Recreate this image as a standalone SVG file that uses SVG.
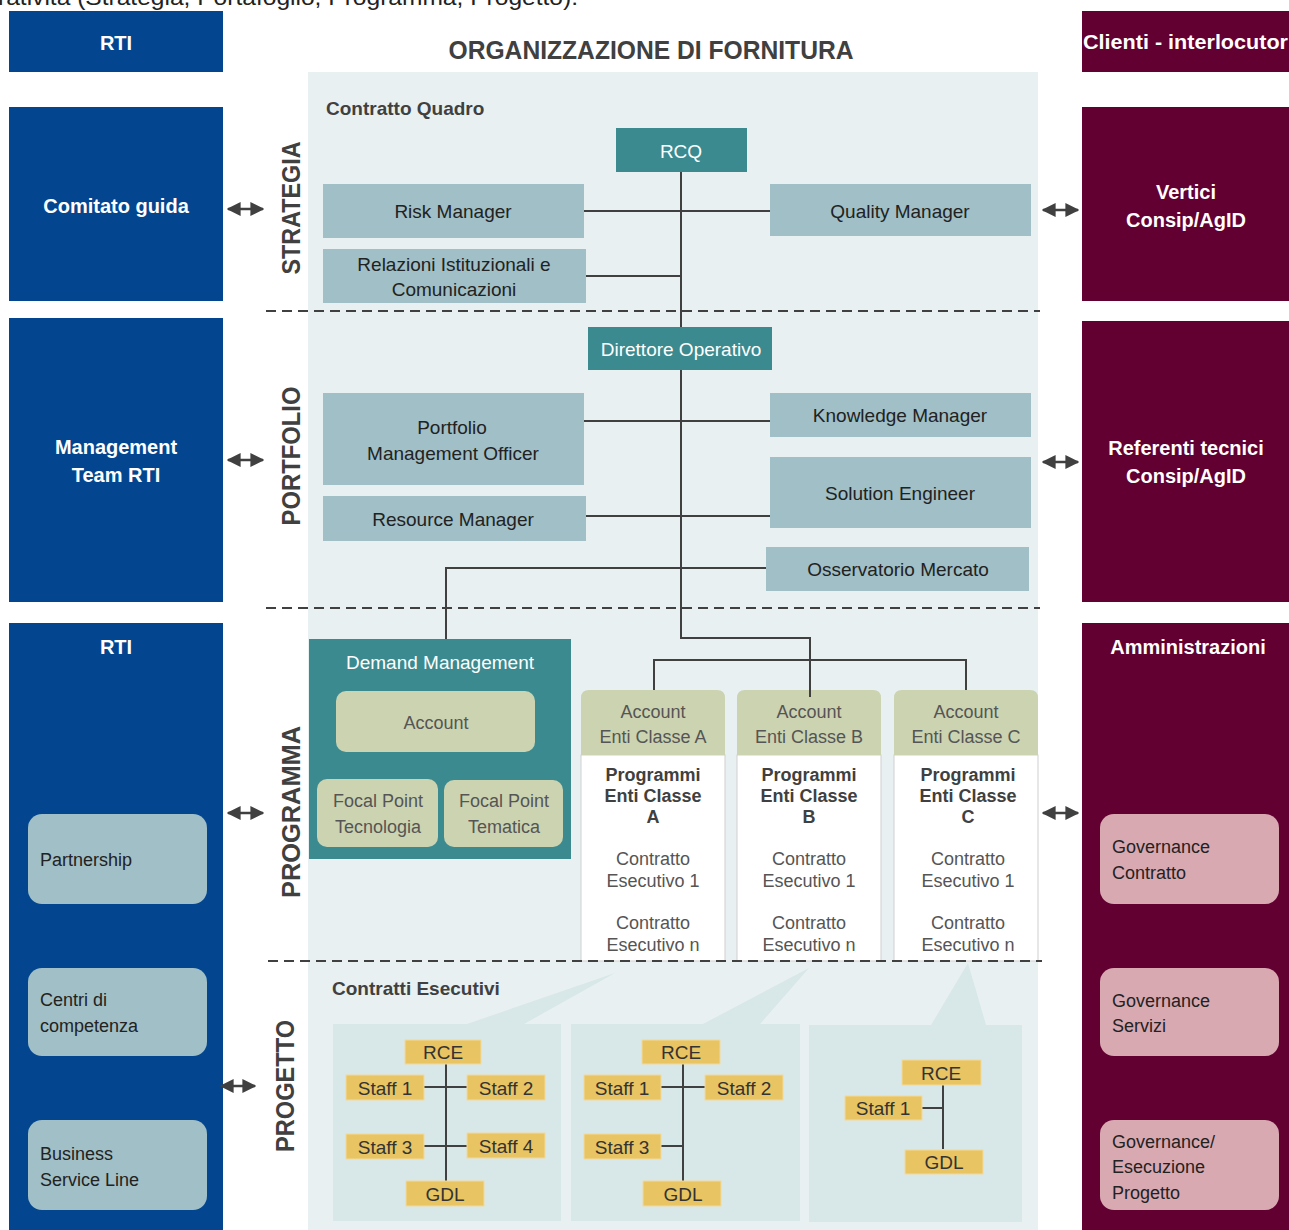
<svg xmlns="http://www.w3.org/2000/svg" width="1289" height="1230" viewBox="0 0 1289 1230">
<style>
text{font-family:"Liberation Sans",Arial,sans-serif}
.wb{fill:#fff;font-weight:bold;font-size:20px;text-anchor:middle}
.lb{fill:#222;font-size:18px}
.bx{fill:#222;font-size:19px;text-anchor:middle;dominant-baseline:central}
.wt{fill:#fff;font-size:19px;text-anchor:middle;dominant-baseline:central}
.gt{fill:#555;font-size:18px;text-anchor:middle;dominant-baseline:central}
.pb{fill:#404040;font-size:18px;font-weight:bold;text-anchor:middle;dominant-baseline:central}
.vl{fill:#404040;font-size:26px;font-weight:bold;text-anchor:middle;dominant-baseline:central}
.yt{fill:#333;font-size:19px;text-anchor:middle;dominant-baseline:central}
.blue{fill:#03468F}
.mar{fill:#620032}
.lbox{fill:#A0BFC6}
.teal{fill:#3B8A8F}
.olive{fill:#CCD3B1}
.pink{fill:#D9A9B2}
.ylw{fill:#E8C462;stroke:#F2DA9A;stroke-width:1}
.pan{fill:#D8E7E8}
.ln{stroke:#404040;stroke-width:2;fill:none}
.dash{stroke:#404040;stroke-width:2.2;stroke-dasharray:10 6;fill:none}
.arr{stroke:#404040;stroke-width:2.5;fill:none;marker-start:url(#ah);marker-end:url(#ah)}
</style>
<defs>
<marker id="ah" viewBox="0 0 10 10" refX="9" refY="5" markerWidth="5.6" markerHeight="5.6" orient="auto-start-reverse" markerUnits="strokeWidth">
<path d="M0,0 L10,5 L0,10 z" fill="#404040"/>
</marker>
</defs>
<rect width="1289" height="1230" fill="#fff"/>
<text x="-2" y="5" fill="#222" font-size="22" textLength="580" lengthAdjust="spacingAndGlyphs">rativita (Strategia, Portafoglio, Programma, Progetto).</text>

<!-- central background -->
<rect x="308" y="72" width="730" height="1158" fill="#E8F0F2"/>
<text x="651" y="59" fill="#404040" font-size="25" font-weight="bold" text-anchor="middle" textLength="405" lengthAdjust="spacingAndGlyphs">ORGANIZZAZIONE DI FORNITURA</text>
<text x="326" y="115" fill="#404040" font-size="19" font-weight="bold">Contratto Quadro</text>

<!-- left column -->
<g id="rti-top"><rect class="blue" x="9" y="11" width="214" height="61"/><text class="wb" x="116" y="50">RTI</text></g>
<g id="comitato"><rect class="blue" x="9" y="107" width="214" height="194"/><text class="wb" x="116" y="213">Comitato guida</text></g>
<g id="mgmt"><rect class="blue" x="9" y="318" width="214" height="284"/><text class="wb" x="116" y="454">Management</text><text class="wb" x="116" y="482">Team RTI</text></g>
<g id="rti-bottom"><rect class="blue" x="9" y="623" width="214" height="607"/><text class="wb" x="116" y="654">RTI</text></g>
<g id="partnership"><rect class="lbox" x="28" y="814" width="179" height="90" rx="14"/><text class="lb" x="40" y="866">Partnership</text></g>
<g id="centri"><rect class="lbox" x="28" y="968" width="179" height="88" rx="14"/><text class="lb" x="40" y="1006">Centri di</text><text class="lb" x="40" y="1032">competenza</text></g>
<g id="bsl"><rect class="lbox" x="28" y="1120" width="179" height="90" rx="14"/><text class="lb" x="40" y="1160">Business</text><text class="lb" x="40" y="1186">Service Line</text></g>

<!-- right column -->
<g id="clienti"><rect class="mar" x="1082" y="11" width="207" height="61"/><text x="1083" y="49" fill="#fff" font-size="20" font-weight="bold" textLength="205" lengthAdjust="spacingAndGlyphs">Clienti - interlocutor</text></g>
<g id="vertici"><rect class="mar" x="1082" y="107" width="207" height="194"/><text class="wb" x="1186" y="199">Vertici</text><text class="wb" x="1186" y="227">Consip/AgID</text></g>
<g id="referenti"><rect class="mar" x="1082" y="321" width="207" height="281"/><text class="wb" x="1186" y="455">Referenti tecnici</text><text class="wb" x="1186" y="483">Consip/AgID</text></g>
<g id="amministrazioni"><rect class="mar" x="1082" y="623" width="207" height="607"/><text class="wb" x="1188" y="654">Amministrazioni</text></g>
<g id="gov-contratto"><rect class="pink" x="1100" y="814" width="179" height="90" rx="14"/><text class="lb" x="1112" y="853">Governance</text><text class="lb" x="1112" y="879">Contratto</text></g>
<g id="gov-servizi"><rect class="pink" x="1100" y="968" width="179" height="88" rx="14"/><text class="lb" x="1112" y="1007">Governance</text><text class="lb" x="1112" y="1032">Servizi</text></g>
<g id="gov-progetto"><rect class="pink" x="1100" y="1120" width="179" height="90" rx="14"/><text class="lb" x="1112" y="1148">Governance/</text><text class="lb" x="1112" y="1173">Esecuzione</text><text class="lb" x="1112" y="1199">Progetto</text></g>

<!-- vertical level labels -->
<text class="vl" transform="translate(291,208) rotate(-90)" textLength="133" lengthAdjust="spacingAndGlyphs">STRATEGIA</text>
<text class="vl" transform="translate(291,456) rotate(-90)" textLength="139" lengthAdjust="spacingAndGlyphs">PORTFOLIO</text>
<text class="vl" transform="translate(291,812) rotate(-90)" textLength="172" lengthAdjust="spacingAndGlyphs">PROGRAMMA</text>
<text class="vl" transform="translate(285,1086) rotate(-90)" textLength="132" lengthAdjust="spacingAndGlyphs">PROGETTO</text>

<!-- bottom panels and callouts -->
<g id="panels">
<polygon class="pan" points="467,1024 524,1024 615,973"/>
<polygon class="pan" points="703,1024 760,1024 809,968"/>
<polygon class="pan" points="931,1025 986,1025 968,963"/>
<rect class="pan" x="333" y="1024" width="228" height="197"/>
<rect class="pan" x="571" y="1024" width="229" height="197"/>
<rect class="pan" x="809" y="1025" width="213" height="197"/>
</g>
<text x="332" y="995" fill="#404040" font-size="19" font-weight="bold">Contratti Esecutivi</text>

<!-- connectors -->
<g id="connectors">
<path class="ln" d="M681,172 V327 M584,211 H770 M586,276 H681"/>
<path class="ln" d="M681,370 V638 H810 V697 M584,421 H770 M586,516 H770 M766,568 H446 V639 M654,690 V660 H966 V690"/>
<path class="ln" d="M446,1064 V1181 M424,1087 H467 M424,1146 H467"/>
<path class="ln" d="M683,1064 V1181 M661,1087 H705 M661,1146 H683"/>
<path class="ln" d="M943,1084 V1149 M922,1108 H943"/>
<line class="arr" x1="228" y1="209" x2="263" y2="209"/>
<line class="arr" x1="228" y1="460" x2="263" y2="460"/>
<line class="arr" x1="228" y1="813" x2="263" y2="813"/>
<line class="arr" x1="221" y1="1086" x2="255" y2="1086"/>
<line class="arr" x1="1043" y1="210" x2="1078" y2="210"/>
<line class="arr" x1="1043" y1="462" x2="1078" y2="462"/>
<line class="arr" x1="1043" y1="813" x2="1078" y2="813"/>
</g>

<!-- strategia -->
<g id="rcq"><rect class="teal" x="616" y="128" width="131" height="44"/><text class="wt" x="681" y="151">RCQ</text></g>
<g id="risk"><rect class="lbox" x="323" y="184" width="261" height="54"/><text class="bx" x="453" y="211">Risk Manager</text></g>
<g id="quality"><rect class="lbox" x="770" y="184" width="261" height="52"/><text class="bx" x="900" y="211">Quality Manager</text></g>
<g id="relazioni"><rect class="lbox" x="323" y="249" width="263" height="54"/><text class="bx" x="454" y="264">Relazioni Istituzionali  e</text><text class="bx" x="454" y="289">Comunicazioni</text></g>

<!-- portfolio -->
<g id="direttore"><rect class="teal" x="588" y="327" width="184" height="43"/><text class="wt" x="681" y="349">Direttore Operativo</text></g>
<g id="pmo"><rect class="lbox" x="323" y="393" width="261" height="92"/><text class="bx" x="452" y="427">Portfolio</text><text class="bx" x="453" y="453">Management  Officer</text></g>
<g id="knowledge"><rect class="lbox" x="770" y="393" width="261" height="44"/><text class="bx" x="900" y="415">Knowledge  Manager</text></g>
<g id="solution"><rect class="lbox" x="770" y="457" width="261" height="71"/><text class="bx" x="900" y="493">Solution Engineer</text></g>
<g id="resource"><rect class="lbox" x="323" y="496" width="263" height="45"/><text class="bx" x="453" y="519">Resource Manager</text></g>
<g id="osservatorio"><rect class="lbox" x="766" y="547" width="263" height="44"/><text class="bx" x="898" y="569">Osservatorio Mercato</text></g>

<!-- programma -->
<g id="demand">
<rect class="teal" x="309" y="639" width="262" height="220"/>
<text class="wt" x="440" y="662">Demand Management</text>
<rect class="olive" x="336" y="691" width="199" height="61" rx="10"/>
<text class="gt" x="436" y="723" font-size="19">Account</text>
<rect class="olive" x="317" y="779" width="121" height="68" rx="10"/>
<text class="gt" x="378" y="801" font-size="19">Focal Point</text><text class="gt" x="378" y="827" font-size="19">Tecnologia</text>
<rect class="olive" x="444" y="780" width="119" height="67" rx="10"/>
<text class="gt" x="504" y="801" font-size="19">Focal Point</text><text class="gt" x="504" y="827" font-size="19">Tematica</text>
</g>

<g id="account-a">
<rect x="581" y="755" width="144" height="206" fill="#fff" stroke="#CFCFCF" stroke-width="1"/>
<path class="olive" d="M581,755 V698 Q581,690 589,690 H717 Q725,690 725,698 V755 Z"/>
<text class="gt" x="653" y="712">Account</text><text class="gt" x="653" y="737">Enti Classe A</text>
<text class="pb" x="653" y="775">Programmi</text><text class="pb" x="653" y="796">Enti Classe</text><text class="pb" x="653" y="817">A</text>
<text class="gt" x="653" y="859">Contratto</text><text class="gt" x="653" y="881">Esecutivo 1</text>
<text class="gt" x="653" y="923">Contratto</text><text class="gt" x="653" y="945">Esecutivo n</text>
</g>
<g id="account-b">
<rect x="737" y="755" width="144" height="206" fill="#fff" stroke="#CFCFCF" stroke-width="1"/>
<path class="olive" d="M737,755 V698 Q737,690 745,690 H873 Q881,690 881,698 V755 Z"/>
<text class="gt" x="809" y="712">Account</text><text class="gt" x="809" y="737">Enti Classe B</text>
<text class="pb" x="809" y="775">Programmi</text><text class="pb" x="809" y="796">Enti Classe</text><text class="pb" x="809" y="817">B</text>
<text class="gt" x="809" y="859">Contratto</text><text class="gt" x="809" y="881">Esecutivo 1</text>
<text class="gt" x="809" y="923">Contratto</text><text class="gt" x="809" y="945">Esecutivo n</text>
</g>
<g id="account-c">
<rect x="894" y="755" width="144" height="206" fill="#fff" stroke="#CFCFCF" stroke-width="1"/>
<path class="olive" d="M894,755 V698 Q894,690 902,690 H1030 Q1038,690 1038,698 V755 Z"/>
<text class="gt" x="966" y="712">Account</text><text class="gt" x="966" y="737">Enti Classe C</text>
<text class="pb" x="968" y="775">Programmi</text><text class="pb" x="968" y="796">Enti Classe</text><text class="pb" x="968" y="817">C</text>
<text class="gt" x="968" y="859">Contratto</text><text class="gt" x="968" y="881">Esecutivo 1</text>
<text class="gt" x="968" y="923">Contratto</text><text class="gt" x="968" y="945">Esecutivo n</text>
</g>
<path class="ln" d="M810,638 V697"/>

<!-- dashed separators -->
<path class="dash" d="M266,311 H1040 M266,608 H1040 M268,961 H1042"/>

<!-- progetto panel 1 -->
<g id="p1-rce"><rect class="ylw" x="405" y="1040" width="76" height="24"/><text class="yt" x="443" y="1052">RCE</text></g>
<g id="p1-s1"><rect class="ylw" x="346" y="1075" width="78" height="25"/><text class="yt" x="385" y="1088">Staff 1</text></g>
<g id="p1-s2"><rect class="ylw" x="467" y="1075" width="78" height="25"/><text class="yt" x="506" y="1088">Staff 2</text></g>
<g id="p1-s3"><rect class="ylw" x="346" y="1134" width="78" height="25"/><text class="yt" x="385" y="1147">Staff 3</text></g>
<g id="p1-s4"><rect class="ylw" x="467" y="1133" width="78" height="25"/><text class="yt" x="506" y="1146">Staff 4</text></g>
<g id="p1-gdl"><rect class="ylw" x="406" y="1181" width="78" height="25"/><text class="yt" x="445" y="1194">GDL</text></g>
<!-- progetto panel 2 -->
<g id="p2-rce"><rect class="ylw" x="642" y="1040" width="78" height="24"/><text class="yt" x="681" y="1052">RCE</text></g>
<g id="p2-s1"><rect class="ylw" x="584" y="1075" width="77" height="25"/><text class="yt" x="622" y="1088">Staff 1</text></g>
<g id="p2-s2"><rect class="ylw" x="705" y="1075" width="78" height="25"/><text class="yt" x="744" y="1088">Staff 2</text></g>
<g id="p2-s3"><rect class="ylw" x="584" y="1134" width="77" height="25"/><text class="yt" x="622" y="1147">Staff 3</text></g>
<g id="p2-gdl"><rect class="ylw" x="643" y="1181" width="78" height="25"/><text class="yt" x="683" y="1194">GDL</text></g>
<!-- progetto panel 3 -->
<g id="p3-rce"><rect class="ylw" x="902" y="1060" width="79" height="25"/><text class="yt" x="941" y="1073">RCE</text></g>
<g id="p3-s1"><rect class="ylw" x="845" y="1096" width="77" height="24"/><text class="yt" x="883" y="1108">Staff 1</text></g>
<g id="p3-gdl"><rect class="ylw" x="905" y="1150" width="78" height="24"/><text class="yt" x="944" y="1162">GDL</text></g>
</svg>
